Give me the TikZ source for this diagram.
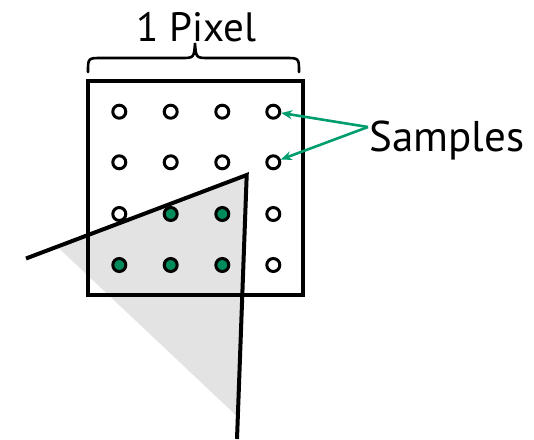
\documentclass[tikz,border=0pt]{standalone}
\usepackage{fontspec}
\setmainfont{PT Sans}
\usetikzlibrary{arrows.meta}
\definecolor{dotgreen}{RGB}{0,140,90}
\definecolor{arrowgreen}{RGB}{0,158,110}
\definecolor{coverage}{RGB}{227,227,227}
\tikzset{
  sample/.style={circle,draw=black,line width=3pt,fill=white,minimum size=13pt,inner sep=0pt},
  covered/.style={sample,fill=dotgreen},
  edge/.style={line width=4pt,line cap=butt},
  pointer/.style={draw=arrowgreen,line width=2.6pt,-{Stealth[length=11pt,width=9pt]}},
  label/.style={inner sep=0pt,anchor=base}
}
\begin{document}
\begin{tikzpicture}[x=1pt,y=-1pt]
\useasboundingbox (0,0) rectangle (534,439);
% triangle corners
\coordinate (apex) at (246.7,175);
\coordinate (lend) at (26,258.5);
\coordinate (bend) at (237,439);
% covered part of the triangle
\fill[coverage] (apex) -- (57,246.5) -- (237.8,417) -- cycle;
% pixel square
\node[draw=black,line width=3.4pt,minimum width=215pt,minimum height=214pt,inner sep=0pt] (pixel) at (195.5,188) {};
% sample grid
\foreach \c/\x in {1/119.3,2/170.7,3/222.3,4/273.3}{
  \foreach \r/\y in {1/111.7,2/162.3}{
    \node[sample] (s\r\c) at (\x,\y) {};
  }
}
\node[sample]  (s31) at (119.3,214) {};
\node[covered] (s32) at (170.7,214) {};
\node[covered] (s33) at (222.3,214) {};
\node[sample]  (s34) at (273.3,214) {};
\node[covered] (s41) at (119.3,265) {};
\node[covered] (s42) at (170.7,265) {};
\node[covered] (s43) at (222.3,265) {};
\node[sample]  (s44) at (273.3,265) {};
% triangle edges
\draw[edge] (lend) -- (apex) -- (bend);
% brace and caption
\draw[line width=2.6pt,line cap=round]
  (88,72) .. controls (88,58) .. (102,58) -- (181,58)
  .. controls (194,58) .. (195,43) .. controls (196,58) .. (209,58)
  -- (285,58) .. controls (299,58) .. (299,72);
\node[label,font=\fontsize{41}{45}\selectfont] (cap) at (196.5,41) {1 Pixel};
% samples label with pointers
\node[label,font=\fontsize{43}{47}\selectfont] (lbl) at (447,151) {Samples};
\coordinate (src) at (368,127);
\draw[pointer] (src) -- (s14);
\draw[pointer] (src) -- (s24);
\end{tikzpicture}
\end{document}
